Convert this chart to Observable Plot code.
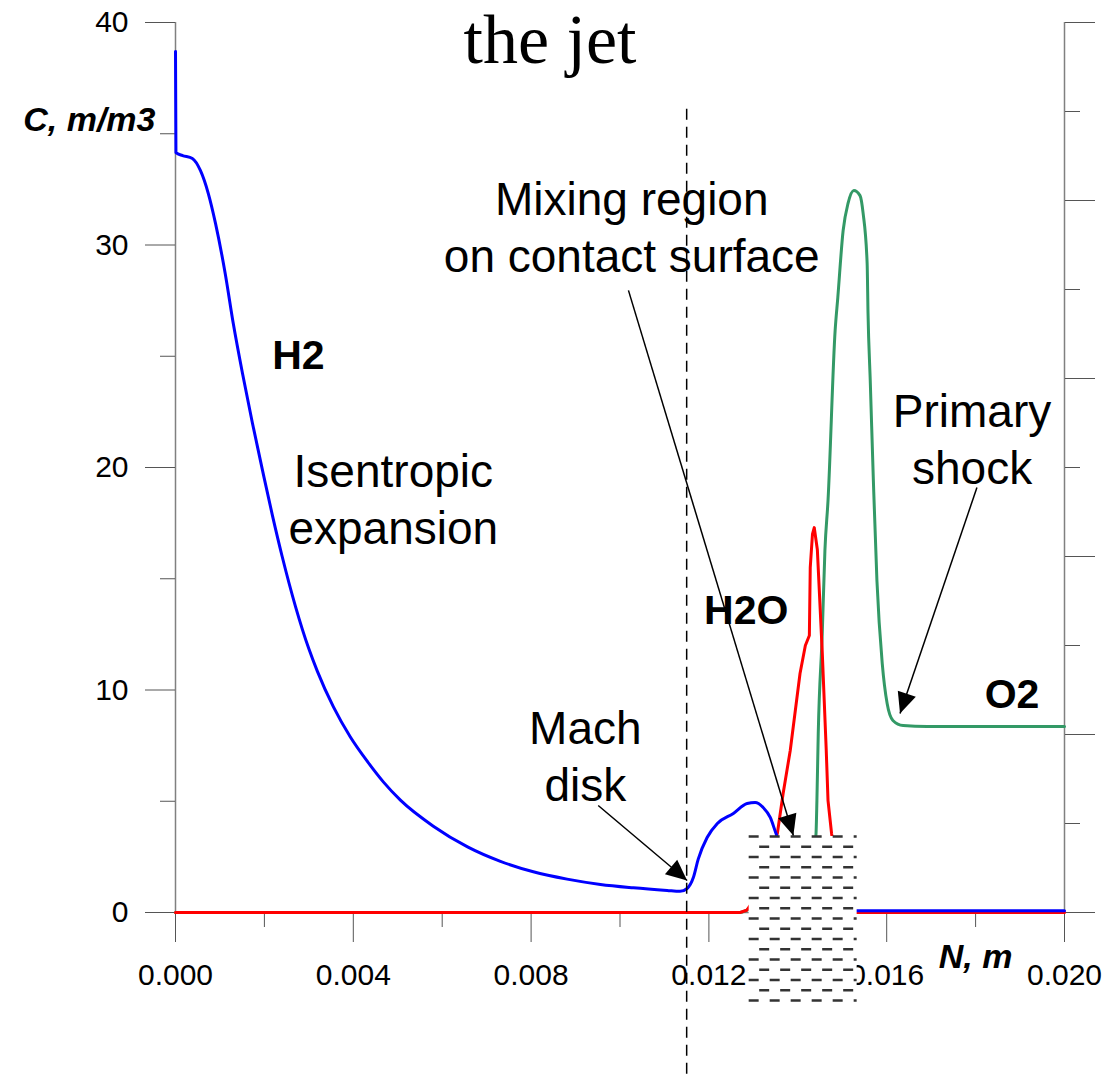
<!DOCTYPE html>
<html>
<head>
<meta charset="utf-8">
<script src="https://cdn.jsdelivr.net/npm/d3@7"></script>
<script src="https://cdn.jsdelivr.net/npm/@observablehq/plot@0.6"></script>
<style>
  html, body { margin: 0; padding: 0; background: #fff; }
  #chart svg { display: block; }
</style>
</head>
<body>
<div id="chart"></div>
<script>
// Concentration profiles along the jet axis (N in metres, C in mol/m3)
const h2X = [0, 0.00001, 0.00016, 0.00038, 0.00056, 0.00074, 0.0009, 0.00112, 0.0013, 0.00151,
  0.00173, 0.00196, 0.00218, 0.0024, 0.0027, 0.003, 0.00319, 0.00355, 0.00393, 0.00432,
  0.00468, 0.00506, 0.0058, 0.00657, 0.00731, 0.00805, 0.00881, 0.00956, 0.0103, 0.01106,
  0.01135, 0.01151, 0.01165, 0.01176, 0.01196, 0.01219, 0.01255, 0.01286, 0.01304, 0.01322,
  0.01338, 0.01351, 0.0137, 0.0141, 0.0146, 0.015, 0.0153, 0.02];
const h2C = [38.7, 34.15, 34.02, 33.89, 33.35, 32.3, 30.97, 28.7, 26.47, 24.2,
  22.0, 19.85, 17.85, 16.0, 13.75, 11.85, 10.85, 9.25, 7.9, 6.78,
  5.86, 5.05, 3.88, 2.95, 2.3, 1.83, 1.5, 1.26, 1.11, 0.99,
  0.95, 1.08, 1.57, 2.4, 3.37, 4.0, 4.45, 4.9, 4.94, 4.72,
  4.27, 3.55, 2.6, 1.2, 0.4, 0.12, 0.08, 0.08];

const h2oX = [0, 0.0127, 0.01285, 0.0131, 0.0134, 0.01354, 0.01367, 0.01383, 0.01405, 0.01417,
  0.01426, 0.01428, 0.01433, 0.01437, 0.01444, 0.01455, 0.01464, 0.01468, 0.01476, 0.0149,
  0.0151, 0.0153, 0.02];
const h2oC = [0, 0, 0.1, 0.8, 2.8, 3.55, 5.35, 7.28, 10.74, 12.0,
  12.45, 15.5, 17.0, 17.3, 16.3, 11.7, 7.28, 5.03, 3.55, 1.5,
  0.2, 0, 0];

const o2X = [0, 0.0127, 0.0129, 0.0135, 0.014, 0.01435, 0.01441, 0.01443, 0.01446, 0.01455,
  0.01461, 0.01468, 0.01484, 0.0149, 0.01502, 0.01513, 0.01526, 0.0154, 0.01547, 0.01556,
  0.01558, 0.01563, 0.0157, 0.01578, 0.0159, 0.01601, 0.01614, 0.01637, 0.01691, 0.02];
const o2C = [0, 0, 0.15, 0.5, 1.2, 2.5, 3.55, 5.03, 8.04, 12.54,
  16.27, 18.52, 26.16, 27.64, 30.65, 31.87, 32.45, 32.22, 31.42, 29.17,
  26.92, 23.9, 19.42, 14.92, 11.19, 9.39, 8.63, 8.4, 8.36, 8.36];

// Axis ticks
const xMajor = [0, 0.004, 0.008, 0.012, 0.016, 0.02];
const xMinor = [0.002, 0.006, 0.01, 0.014, 0.018];
const yMajor = [0, 10, 20, 30, 40];
const yMinor = [5, 15, 25, 35];
const rightMajor = [0, 8, 16, 24, 32, 40];
const rightMinor = [4, 12, 20, 28, 36];

// Mach disk position and the mixing region on the contact surface
const machDiskX = [0.0115];
const machDiskSpan = [36.1, -7.4];
const mixingBand = [{x1: 0.012906, x2: 0.015335, y1: -3.955, y2: 3.416}];

// Labels
const speciesLabels = [
  {text: "H2", x: 0.002766, y: 25.03},
  {text: "H2O", x: 0.01284, y: 13.57},
  {text: "O2", x: 0.01882, y: 9.8}
];
const notes = [
  {text: "Isentropic\nexpansion", x: 0.0049, y: 18.65},
  {text: "Mach\ndisk", x: 0.00922, y: 7.11},
  {text: "Mixing region\non contact surface", x: 0.010264, y: 30.88},
  {text: "Primary\nshock", x: 0.01792, y: 21.36}
];
const pointers = [
  {x1: 0.00951, y1: 4.81, x2: 0.01151, y2: 1.44},
  {x1: 0.01019, y1: 27.96, x2: 0.0139, y2: 3.46},
  {x1: 0.01803, y1: 19.1, x2: 0.0163, y2: 8.94}
];
const axisTitles = [
  {text: "C, m/m3", x: -0.00045, y: 35.6, anchor: "end"},
  {text: "N, m", x: 0.018, y: -2.02, anchor: "middle"}
];

const series = (xs, ys) => xs.map((x, i) => ({x, y: ys[i]}));
const h2 = series(h2X, h2C);
const h2o = series(h2oX, h2oC);
const o2 = series(o2X, o2C);

// Dashed rows filling the mixing band
const band = mixingBand[0];
const nRows = 17;
const hatchRows = d3.range(nRows).map(i => ({
  y: band.y2 - i * (band.y2 - band.y1) / (nRows - 1),
  odd: i % 2 === 1
}));

const font = "Liberation Sans, Arial, Helvetica, sans-serif";
const tickColor = "#555";

const chart = Plot.plot({
  width: 1106,
  height: 1075,
  marginLeft: 175,
  marginRight: 42,
  marginTop: 22,
  marginBottom: 163,
  style: {fontFamily: font, background: "#fff", color: "#000"},
  x: {domain: [0, 0.02]},
  y: {domain: [0, 40]},
  marks: [
    // axis lines
    Plot.ruleX([0, 0.02], {y1: 0, y2: 40, stroke: "#808080", strokeWidth: 1.5}),
    Plot.ruleY([0], {stroke: "#808080", strokeWidth: 1.5}),
    // left axis
    Plot.axisY({ticks: yMajor, tickSize: 30, tickPadding: 17, fontSize: 30, label: null, stroke: tickColor, fill: "#000", tickFormat: d => String(d)}),
    Plot.axisY({ticks: yMinor, tickSize: 15, label: null, stroke: tickColor, tickFormat: () => ""}),
    // right axis (unlabelled)
    Plot.axisY({anchor: "right", ticks: rightMajor, tickSize: 30, label: null, stroke: tickColor, tickFormat: () => ""}),
    Plot.axisY({anchor: "right", ticks: rightMinor, tickSize: 15, label: null, stroke: tickColor, tickFormat: () => ""}),
    // bottom axis
    Plot.axisX({ticks: xMajor, tickSize: 30, tickPadding: 21, fontSize: 30, label: null, stroke: tickColor, fill: "#000", tickFormat: d3.format(".3f")}),
    Plot.axisX({ticks: xMinor, tickSize: 15, label: null, stroke: tickColor, tickFormat: () => ""}),
    // concentration curves
    Plot.line(o2, {x: "x", y: "y", stroke: "#339966", strokeWidth: 3, curve: "monotone-x"}),
    Plot.line(h2o, {x: "x", y: "y", stroke: "#ff0000", strokeWidth: 3, curve: "linear"}),
    Plot.line(h2, {x: "x", y: "y", stroke: "#0000ff", strokeWidth: 3, curve: "monotone-x"}),
    // mixing region
    Plot.rect(mixingBand, {x1: "x1", x2: "x2", y1: "y1", y2: "y2", fill: "#fff"}),
    Plot.ruleY(hatchRows.filter(d => !d.odd), {y: "y", x1: band.x1, x2: band.x2, stroke: "#333", strokeWidth: 2.5, strokeDasharray: "10,11"}),
    Plot.ruleY(hatchRows.filter(d => d.odd), {y: "y", x1: band.x1, x2: band.x2, stroke: "#333", strokeWidth: 2.5, strokeDasharray: "10,11", strokeDashoffset: 10.5}),
    // Mach disk
    Plot.ruleX(machDiskX, {y1: machDiskSpan[0], y2: machDiskSpan[1], stroke: "#000", strokeWidth: 1.5, strokeDasharray: "11,7"}),
    // pointers
    Plot.link(pointers, {x1: "x1", y1: "y1", x2: "x2", y2: "y2", stroke: "#000", strokeWidth: 1.5}),
    // text
    Plot.text(notes, {x: "x", y: "y", text: "text", fontSize: 46, lineHeight: 1.24, fill: "#000", fontFamily: font}),
    Plot.text(speciesLabels, {x: "x", y: "y", text: "text", fontSize: 41, fontWeight: "bold", fill: "#000", fontFamily: font}),
    Plot.text(axisTitles, {x: "x", y: "y", text: "text", textAnchor: "end", fontSize: 34, fontWeight: "bold", fontStyle: "italic", fill: "#000", fontFamily: font, filter: d => d.anchor === "end"}),
    Plot.text(axisTitles, {x: "x", y: "y", text: "text", textAnchor: "middle", fontSize: 34, fontWeight: "bold", fontStyle: "italic", fill: "#000", fontFamily: font, filter: d => d.anchor === "middle"})
  ]
});

document.getElementById("chart").appendChild(chart);

// filled arrowheads on the pointers, and the heading
const svg = d3.select(chart);
const defs = svg.insert("defs", ":first-child");
defs.append("marker")
  .attr("id", "pointer-head")
  .attr("markerUnits", "userSpaceOnUse")
  .attr("viewBox", "-22 -12 24 24")
  .attr("markerWidth", 24)
  .attr("markerHeight", 24)
  .attr("refX", 0)
  .attr("refY", 0)
  .attr("orient", "auto")
  .append("path")
  .attr("d", "M0,0L-21,-9.5L-21,9.5Z")
  .attr("fill", "#000");
svg.selectAll('g[aria-label="link"] path').attr("marker-end", "url(#pointer-head)");

svg.append("text")
  .attr("x", 550)
  .attr("y", 63)
  .attr("text-anchor", "middle")
  .attr("font-family", "Liberation Serif, Times New Roman, serif")
  .attr("font-size", 70)
  .attr("fill", "#000")
  .text("the jet");
</script>
</body>
</html>
